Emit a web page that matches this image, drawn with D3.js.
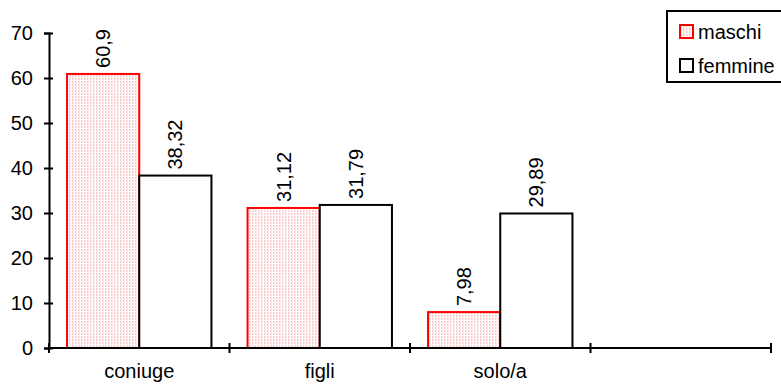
<!DOCTYPE html>
<html>
<head>
<meta charset="utf-8">
<script src="https://cdn.jsdelivr.net/npm/d3@7"></script>
<style>
  body { margin: 0; background: #fff; }
  text { font-family: Arial, "Liberation Sans", sans-serif; font-size: 20px; fill: #000; }
</style>
</head>
<body>
<div id="chart"></div>
<script>
// data
const categories = ["coniuge", "figli", "solo/a", ""];
const maschi = [60.9, 31.12, 7.98, null];
const femmine = [38.32, 31.79, 29.89, null];
const seriesNames = ["maschi", "femmine"];
const yTicks = [0, 10, 20, 30, 40, 50, 60, 70];

const width = 781, height = 389;
const margin = {top: 33, left: 49, right: 10, bottom: 41};

const svg = d3.select("#chart").append("svg")
    .attr("width", width)
    .attr("height", height);

// pink dotted fill used by the "maschi" bars
const pat = svg.append("defs").append("pattern")
    .attr("id", "dots")
    .attr("patternUnits", "userSpaceOnUse")
    .attr("width", 3).attr("height", 3);
pat.append("rect").attr("width", 3).attr("height", 3).attr("fill", "#fff");
pat.append("rect").attr("width", 1).attr("height", 2).attr("fill", "#f8c4c4");
pat.append("rect").attr("x", 1).attr("width", 1).attr("height", 3).attr("fill", "#fdeaea");

const xScale = d3.scaleBand()
    .domain(categories.map((d, i) => i))
    .range([margin.left, width - margin.right]);

const yScale = d3.scaleLinear()
    .domain([0, 70])
    .range([height - margin.bottom, margin.top]);

const inner = xScale.bandwidth() * 0.8;
const xSub = d3.scaleBand()
    .domain([0, 1])
    .range([(xScale.bandwidth() - inner) / 2, (xScale.bandwidth() + inner) / 2]);

const fmt = v => String(v).replace(".", ",");

const rows = [];
categories.forEach((c, i) => {
    [maschi[i], femmine[i]].forEach((v, s) => {
        if (v != null) rows.push({i: i, s: s, v: v});
    });
});

// bars
svg.selectAll("rect.bar")
    .data(rows)
    .enter()
    .append("rect")
        .attr("class", "bar")
        .attr("x", d => xScale(d.i) + xSub(d.s))
        .attr("y", d => yScale(d.v))
        .attr("width", xSub.bandwidth())
        .attr("height", d => yScale(0) - yScale(d.v))
        .attr("fill", d => d.s === 0 ? "url(#dots)" : "#fff")
        .attr("stroke", d => d.s === 0 ? "#ff0000" : "#000")
        .attr("stroke-width", 2);

// value labels, rotated
svg.selectAll("text.val")
    .data(rows)
    .enter()
    .append("text")
        .attr("class", "val")
        .attr("transform", d => {
            const cx = xScale(d.i) + xSub(d.s) + xSub.bandwidth() / 2 + 7;
            return `translate(${cx},${yScale(d.v) - 6}) rotate(-90)`;
        })
        .text(d => fmt(d.v));

// axes
const xAxis = svg.append("g")
    .attr("transform", `translate(0,${yScale(0)})`);
xAxis.append("line")
    .attr("x1", margin.left).attr("x2", width - margin.right)
    .attr("stroke", "#000").attr("stroke-width", 2);
xAxis.selectAll("line.tick")
    .data(d3.range(categories.length + 1))
    .enter()
    .append("line")
        .attr("x1", i => i < categories.length ? xScale(i) : xScale.range()[1])
        .attr("x2", i => i < categories.length ? xScale(i) : xScale.range()[1])
        .attr("y1", -5).attr("y2", 5)
        .attr("stroke", "#000").attr("stroke-width", 2);
xAxis.selectAll("text")
    .data(categories)
    .enter()
    .append("text")
        .attr("x", (d, i) => xScale(i) + xScale.bandwidth() / 2)
        .attr("y", 30)
        .attr("text-anchor", "middle")
        .text(d => d);

const yAxis = svg.append("g")
    .attr("transform", `translate(${margin.left},0)`)
    .call(d3.axisLeft(yScale).tickValues(yTicks).tickSize(5).tickPadding(10));
yAxis.select(".domain").attr("stroke", "#000").attr("stroke-width", 2);
yAxis.selectAll(".tick line")
    .attr("x1", 4).attr("x2", -5)
    .attr("stroke", "#000").attr("stroke-width", 2);
yAxis.selectAll(".tick text")
    .attr("font-family", null).attr("font-size", null)
    .attr("x", -16)
    .attr("fill", "#000");
yAxis.attr("font-size", null).attr("font-family", null);

// legend
const legend = svg.append("g").attr("transform", "translate(667,11)");
legend.append("rect")
    .attr("width", 130).attr("height", 71)
    .attr("fill", "#fff").attr("stroke", "#000").attr("stroke-width", 2);
const items = legend.selectAll("g.item")
    .data(seriesNames)
    .enter()
    .append("g")
        .attr("transform", (d, i) => `translate(13,${14 + i * 34})`);
items.append("rect")
    .attr("width", 13).attr("height", 13)
    .attr("fill", (d, i) => i === 0 ? "url(#dots)" : "#fff")
    .attr("stroke", (d, i) => i === 0 ? "#ff0000" : "#000")
    .attr("stroke-width", 2);
items.append("text")
    .attr("x", 18)
    .attr("y", 14)
    .text(d => d);
</script>
</body>
</html>
